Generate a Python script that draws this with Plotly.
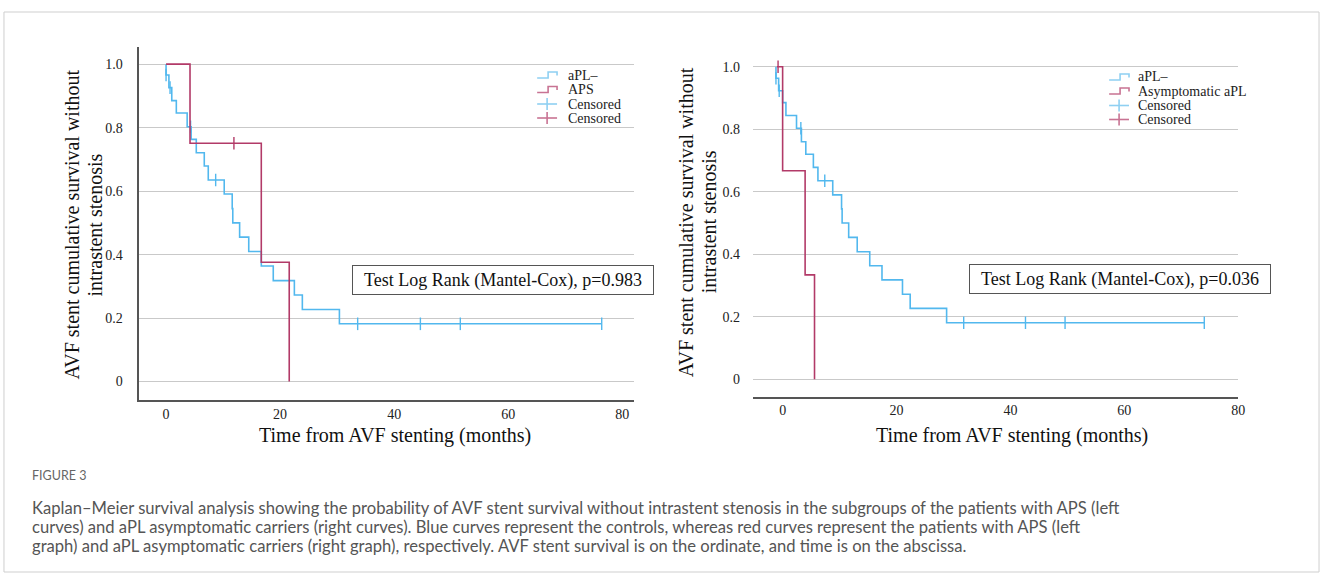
import plotly.graph_objects as go

W, H = 1330, 577

# ---------------- data ----------------
# Left panel: aPL- (controls) vs APS
left_blue_start = 0.0
left_blue_times = [0.0, 0.5, 1.0, 1.8, 3.7, 4.4, 5.3, 6.7, 7.4, 10.2, 11.6, 11.7,
                   12.9, 14.5, 16.7, 18.8, 22.5, 23.9, 30.4]
left_blue_surv = [0.966, 0.926, 0.885, 0.846, 0.803, 0.763, 0.721, 0.679, 0.635,
                  0.591, 0.545, 0.500, 0.455, 0.410, 0.364, 0.318, 0.273, 0.227, 0.182]
left_blue_end = 76.4
left_blue_censored = [0.0, 0.7, 4.3, 8.7, 33.6, 44.6, 51.6, 76.4]

left_red_start = 0.0
left_red_times = [4.2, 16.7, 21.6]
left_red_surv = [0.751, 0.376, 0.0]
left_red_end = 21.6
left_red_censored = [11.9]

# Right panel: aPL- (controls) vs asymptomatic aPL
right_blue_start = -1.17
right_blue_times = [-1.17, -0.7, 0.0, 0.58, 2.44, 3.3, 4.07, 5.4, 6.2, 8.8, 10.35, 10.45,
                    11.6, 13.1, 15.3, 17.45, 21.05, 22.4, 28.8]
right_blue_surv = [0.963, 0.923, 0.885, 0.844, 0.803, 0.760, 0.720, 0.678, 0.635, 0.590,
                   0.545, 0.500, 0.454, 0.408, 0.363, 0.318, 0.272, 0.227, 0.181]
right_blue_end = 74.05
right_blue_censored = [-1.17, -0.6, 3.2, 7.4, 31.8, 42.65, 49.6, 74.05]

right_red_start = -1.0
right_red_times = [0.0, 3.95, 5.6]
right_red_surv = [0.667, 0.334, 0.0]
right_red_end = 5.6
right_red_censored = [-0.8]

x_ticks = [0, 20, 40, 60, 80]
y_ticks = [0, 0.2, 0.4, 0.6, 0.8, 1.0]
y_ticktext = ["0", "0.2", "0.4", "0.6", "0.8", "1.0"]

left_legend = ["aPL\u2013", "APS", "Censored", "Censored"]
right_legend = ["aPL\u2013", "Asymptomatic aPL", "Censored", "Censored"]
left_test = "Test Log Rank (Mantel-Cox), p=0.983"
right_test = "Test Log Rank (Mantel-Cox), p=0.036"
x_title = "Time from AVF stenting (months)"
y_title_1 = "AVF stent cumulative survival without"
y_title_2 = "intrastent stenosis"
caption_label = "FIGURE 3"
caption_lines = [
    "Kaplan\u2013Meier survival analysis showing the probability of AVF stent survival without intrastent stenosis in the subgroups of the patients with APS (left",
    "curves) and aPL asymptomatic carriers (right curves). Blue curves represent the controls, whereas red curves represent the patients with APS (left",
    "graph) and aPL asymptomatic carriers (right graph), respectively. AVF stent survival is on the ordinate, and time is on the abscissa.",
]

BLUE = "#52b8ee"
RED = "#b23a68"
BLUE_L = "#8fd0f2"
RED_L = "#c87393"
SERIF = "Liberation Serif, Times New Roman, serif"
SANS = "Lato, Open Sans, sans-serif"


def px2x(p):
    return p / W


def py2y(p):
    return 1 - p / H


def step_xy(start, times, surv, end):
    xs = [start] + list(times) + [end]
    ys = [1.0] + list(surv) + [surv[-1]]
    return xs, ys


def surv_at(t, times, surv):
    s = 1.0
    for ti, si in zip(times, surv):
        if ti <= t:
            s = si
    return s


fig = go.Figure()

panels = [
    dict(xa="x", ya="y",
         blue=(left_blue_start, left_blue_times, left_blue_surv, left_blue_end, left_blue_censored),
         red=(left_red_start, left_red_times, left_red_surv, left_red_end, left_red_censored)),
    dict(xa="x2", ya="y2",
         blue=(right_blue_start, right_blue_times, right_blue_surv, right_blue_end, right_blue_censored),
         red=(right_red_start, right_red_times, right_red_surv, right_red_end, right_red_censored)),
]

for p in panels:
    for key, col in (("blue", BLUE), ("red", RED)):
        start, times, surv, end, cens = p[key]
        xs, ys = step_xy(start, times, surv, end)
        fig.add_trace(go.Scatter(x=xs, y=ys, mode="lines", line=dict(color=col, width=1.6, shape="hv"),
                                 xaxis=p["xa"], yaxis=p["ya"], showlegend=False, hoverinfo="skip"))
        fig.add_trace(go.Scatter(x=cens, y=[surv_at(t, times, surv) for t in cens], mode="markers",
                                 marker=dict(symbol="line-ns", size=9, line=dict(color=col, width=1.4)),
                                 xaxis=p["xa"], yaxis=p["ya"], showlegend=False, hoverinfo="skip"))

axis_common = dict(showgrid=False, zeroline=False, ticks="", tickfont=dict(family=SERIF, size=14, color="#222"))
grid_y = dict(showgrid=True, gridcolor="#c9c9c9", gridwidth=1.4, zeroline=False, ticks="",
              tickvals=y_ticks, ticktext=y_ticktext, tickfont=dict(family=SERIF, size=14, color="#222"))

fig.update_layout(
    width=W, height=H, margin=dict(l=0, r=0, t=0, b=0),
    paper_bgcolor="white", plot_bgcolor="white", showlegend=False,
    xaxis=dict(domain=[px2x(140), px2x(637)], range=[-4.7, 82], tickvals=x_ticks,
               showline=True, linecolor="#555", linewidth=1.6, anchor="y", **axis_common),
    yaxis=dict(domain=[py2y(400), py2y(47)], range=[-0.058, 1.054], showline=True,
               linecolor="#555", linewidth=1.6, anchor="x", ticklabelstandoff=12, **grid_y),
    xaxis2=dict(domain=[px2x(757), px2x(1245)], range=[-5.2, 80.05], tickvals=x_ticks,
                showline=True, linecolor="#555", linewidth=1.6, anchor="y2", **axis_common),
    yaxis2=dict(domain=[py2y(396.7), py2y(49.8)], range=[-0.0557, 1.054], showline=False,
                anchor="x2", ticklabelstandoff=12, **grid_y),
)

shapes = []
annotations = []

# outer frame
shapes.append(dict(type="rect", xref="paper", yref="paper", x0=px2x(4), x1=px2x(1326), y0=py2y(572), y1=py2y(12),
                   line=dict(color="#cfcfcf", width=1)))


def add_legend(labels, x_icon, x_text, y_rows):
    cols = [BLUE_L, RED_L, BLUE_L, RED_L]
    for i, (lab, yr) in enumerate(zip(labels, y_rows)):
        c = cols[i]
        if i < 2:
            path = "M {a},{b} L {c1},{b} L {c1},{d} L {e},{d} L {e},{f}".format(
                a=px2x(x_icon), b=py2y(yr + 3), c1=px2x(x_icon + 11), d=py2y(yr - 3),
                e=px2x(x_icon + 20), f=py2y(yr + 0.5))
            shapes.append(dict(type="path", xref="paper", yref="paper", path=path,
                               line=dict(color=c, width=1.6)))
        else:
            shapes.append(dict(type="line", xref="paper", yref="paper", x0=px2x(x_icon), x1=px2x(x_icon + 20),
                               y0=py2y(yr), y1=py2y(yr), line=dict(color=c, width=1.6)))
            shapes.append(dict(type="line", xref="paper", yref="paper", x0=px2x(x_icon + 10), x1=px2x(x_icon + 10),
                               y0=py2y(yr - 6), y1=py2y(yr + 6), line=dict(color=c, width=1.6)))
        annotations.append(dict(xref="paper", yref="paper", x=px2x(x_text), y=py2y(yr), text=lab,
                                showarrow=False, xanchor="left", yanchor="middle",
                                font=dict(family=SERIF, size=14, color="#222")))


add_legend(left_legend, 540, 569, [75, 89.5, 104, 118])
add_legend(right_legend, 1115, 1142, [77, 91, 105.5, 119.5])

# test boxes
for txt, cx, cy in ((left_test, 505.5, 279.7), (right_test, 1125.5, 278.8)):
    annotations.append(dict(xref="paper", yref="paper", x=px2x(cx), y=py2y(cy), text=txt, showarrow=False,
                            xanchor="center", yanchor="middle", width=298, height=26, borderpad=1,
                            bordercolor="#555", borderwidth=1, bgcolor="white",
                            font=dict(family=SERIF, size=18, color="#111")))

# axis titles
for cx in (397, 1017):
    annotations.append(dict(xref="paper", yref="paper", x=px2x(cx), y=py2y(435), text=x_title, showarrow=False,
                            xanchor="center", yanchor="middle", font=dict(family=SERIF, size=20, color="#111")))
for x1, x2, cy in ((72, 95, 225), (690, 713, 222)):
    annotations.append(dict(xref="paper", yref="paper", x=px2x(x1), y=py2y(cy), text=y_title_1, showarrow=False,
                            textangle=-90, xanchor="center", yanchor="middle",
                            font=dict(family=SERIF, size=20, color="#111")))
    annotations.append(dict(xref="paper", yref="paper", x=px2x(x2), y=py2y(cy), text=y_title_2, showarrow=False,
                            textangle=-90, xanchor="center", yanchor="middle",
                            font=dict(family=SERIF, size=20, color="#111")))

# caption
annotations.append(dict(xref="paper", yref="paper", x=px2x(30), y=py2y(475), text=caption_label, showarrow=False,
                        xanchor="left", yanchor="middle", font=dict(family=SANS, size=12.5, color="#666")))
for line, cy in zip(caption_lines, (508, 527, 545.5)):
    annotations.append(dict(xref="paper", yref="paper", x=px2x(30), y=py2y(cy), text=line, showarrow=False,
                            xanchor="left", yanchor="middle",
                            font=dict(family=SANS, size=16.6, color="#555")))

fig.update_layout(shapes=shapes, annotations=annotations)
fig.write_html("out.html", config={"displayModeBar": False},
               post_script="document.body.style.margin='0px';document.body.style.padding='0px';")
